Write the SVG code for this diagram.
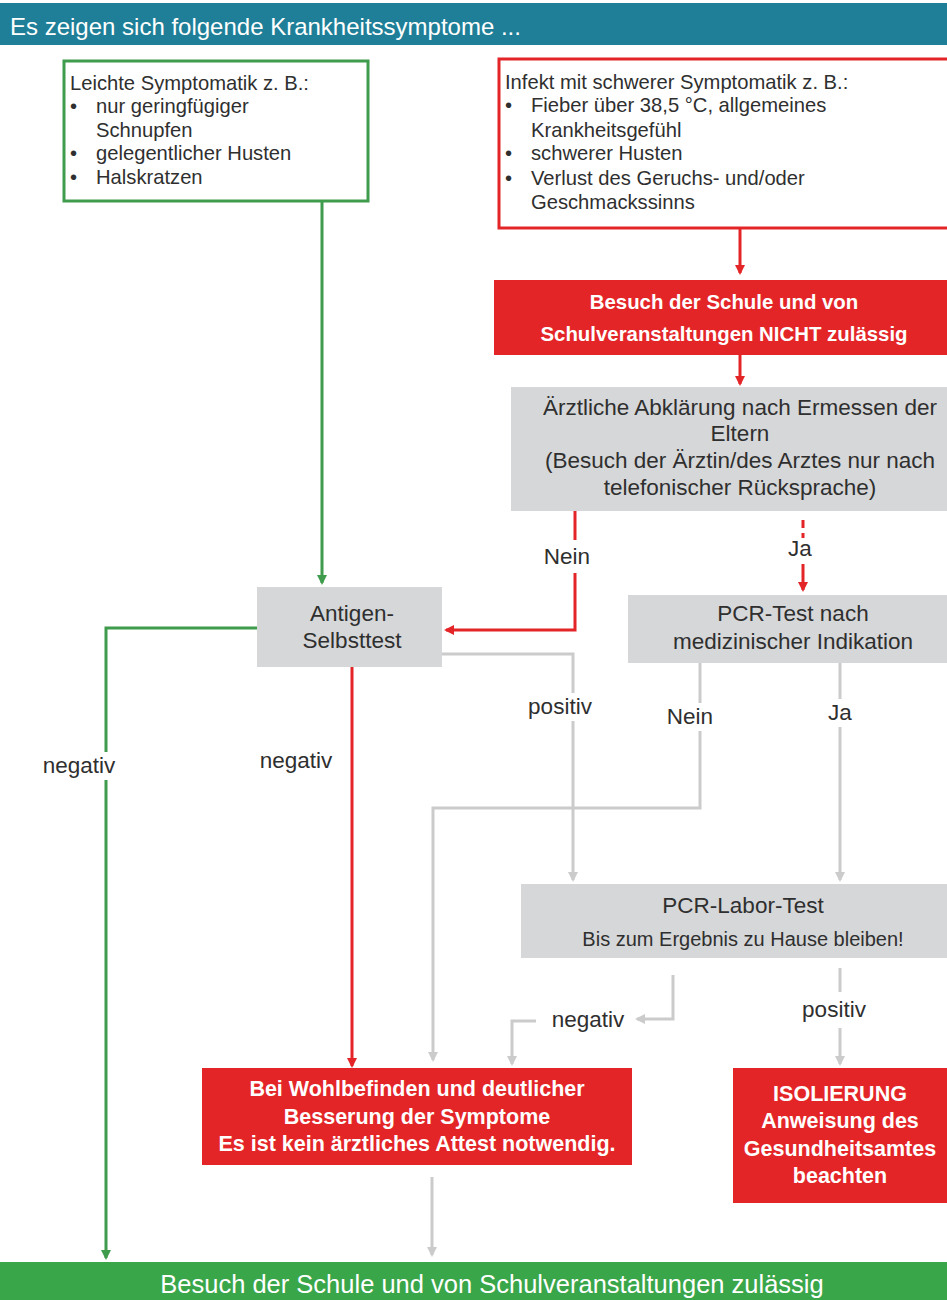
<svg xmlns="http://www.w3.org/2000/svg" width="947" height="1300" viewBox="0 0 947 1300">
<style>
text{font-family:"Liberation Sans",Arial,sans-serif;}
.t{fill:#2f2f2f;font-size:20.2px;}
.g{fill:#2f2f2f;font-size:22.5px;text-anchor:middle;}
.lb{fill:#2f2f2f;font-size:22.5px;text-anchor:middle;}
.w{fill:#fff;font-weight:700;text-anchor:middle;}
.redbox{fill:#e42528;}
.greybox{fill:#d6d7d9;}
.lr{stroke:#e42528;stroke-width:3;fill:none;}
.lg{stroke:#3f9c4c;stroke-width:3;fill:none;}
.ly{stroke:#cbcbcb;stroke-width:3;fill:none;}
</style>
<defs>
<marker id="ar" markerWidth="10" markerHeight="10" refX="8" refY="5" orient="auto" markerUnits="userSpaceOnUse"><path d="M0,0 L10,5 L0,10 z" fill="#e42528"/></marker>
<marker id="ag" markerWidth="10" markerHeight="10" refX="8" refY="5" orient="auto" markerUnits="userSpaceOnUse"><path d="M0,0 L10,5 L0,10 z" fill="#3f9c4c"/></marker>
<marker id="ay" markerWidth="10" markerHeight="10" refX="8" refY="5" orient="auto" markerUnits="userSpaceOnUse"><path d="M0,0 L10,5 L0,10 z" fill="#cbcbcb"/></marker>
</defs>
<rect width="947" height="1300" fill="#fff"/>

<g id="header">
<rect x="0" y="3" width="947" height="42" fill="#1f7f98"/>
<text x="10" y="35" style="fill:#fff;font-size:24px;">Es zeigen sich folgende Krankheitssymptome ...</text>
</g>

<g id="connectors">
<path class="lg" d="M322,202 V583" marker-end="url(#ag)"/>
<path class="lr" d="M740,228 V273" marker-end="url(#ar)"/>
<path class="lr" d="M740,355 V384" marker-end="url(#ar)"/>
<path class="lr" d="M575,511 V540"/>
<path class="lr" d="M575,573 V630 H446" marker-end="url(#ar)"/>
<path class="lr" d="M803,520 V538" stroke-dasharray="8,5"/>
<path class="lr" d="M803,564 V590" marker-end="url(#ar)"/>
<path class="lg" d="M257,628 H106 V1258" marker-end="url(#ag)"/>
<path class="lr" d="M352,667 V1066" marker-end="url(#ar)"/>
<path class="ly" d="M442,654 H573 V880" marker-end="url(#ay)"/>
<path class="ly" d="M700,663 V808 H433 V1060" marker-end="url(#ay)"/>
<path class="ly" d="M840,663 V880" marker-end="url(#ay)"/>
<path class="ly" d="M673,975 V1019 H637" marker-end="url(#ay)"/>
<path class="ly" d="M536,1021 H512 V1064" marker-end="url(#ay)"/>
<path class="ly" d="M840,968 V992"/>
<path class="ly" d="M840,1028 V1064" marker-end="url(#ay)"/>
<path class="ly" d="M432,1177 V1255" marker-end="url(#ay)"/>
<rect x="524" y="693" width="72" height="28" fill="#fff"/>
<rect x="662" y="703" width="56" height="28" fill="#fff"/>
<rect x="826" y="699" width="28" height="28" fill="#fff"/>
<rect x="38" y="752" width="84" height="28" fill="#fff"/>
<text class="lb" x="567" y="564">Nein</text>
<text class="lb" x="800" y="556">Ja</text>
<text class="lb" x="79" y="773">negativ</text>
<text class="lb" x="296" y="768">negativ</text>
<text class="lb" x="560" y="714">positiv</text>
<text class="lb" x="690" y="724">Nein</text>
<text class="lb" x="840" y="720">Ja</text>
<text class="lb" x="588" y="1027">negativ</text>
<text class="lb" x="834" y="1017">positiv</text>
</g>

<g id="leicht">
<rect x="64" y="61" width="304" height="140" fill="#fff" stroke="#3f9c4c" stroke-width="3"/>
<text class="t" x="70" y="90">Leichte Symptomatik z. B.:</text>
<text class="t" x="70" y="113">•</text><text class="t" x="96" y="113">nur geringfügiger</text>
<text class="t" x="96" y="137">Schnupfen</text>
<text class="t" x="70" y="160">•</text><text class="t" x="96" y="160">gelegentlicher Husten</text>
<text class="t" x="70" y="184">•</text><text class="t" x="96" y="184">Halskratzen</text>
</g>

<g id="schwer">
<rect x="499" y="59" width="460" height="169" fill="#fff" stroke="#e42528" stroke-width="3"/>
<text class="t" x="505" y="89">Infekt mit schwerer Symptomatik z. B.:</text>
<text class="t" x="505" y="112">•</text><text class="t" x="531" y="112">Fieber über 38,5 °C, allgemeines</text>
<text class="t" x="531" y="137">Krankheitsgefühl</text>
<text class="t" x="505" y="160">•</text><text class="t" x="531" y="160">schwerer Husten</text>
<text class="t" x="505" y="185">•</text><text class="t" x="531" y="185">Verlust des Geruchs- und/oder</text>
<text class="t" x="531" y="209">Geschmackssinns</text>
</g>

<g id="nicht-zulaessig">
<rect class="redbox" x="494" y="280" width="460" height="75"/>
<text class="w" x="724" y="309" style="font-size:20.4px">Besuch der Schule und von</text>
<text class="w" x="724" y="341" style="font-size:20.4px">Schulveranstaltungen NICHT zulässig</text>
</g>

<g id="aerztlich">
<rect class="greybox" x="511" y="387" width="446" height="124"/>
<text class="g" x="740" y="415">Ärztliche Abklärung nach Ermessen der</text>
<text class="g" x="740" y="441">Eltern</text>
<text class="g" x="740" y="468">(Besuch der Ärztin/des Arztes nur nach</text>
<text class="g" x="740" y="495">telefonischer Rücksprache)</text>
</g>

<g id="antigen">
<rect class="greybox" x="257" y="587" width="185" height="80"/>
<text class="g" x="352" y="621">Antigen-</text>
<text class="g" x="352" y="648">Selbsttest</text>
</g>

<g id="pcr-indikation">
<rect class="greybox" x="628" y="595" width="329" height="68"/>
<text class="g" x="793" y="621">PCR-Test nach</text>
<text class="g" x="793" y="649">medizinischer Indikation</text>
</g>

<g id="pcr-labor">
<rect class="greybox" x="521" y="884" width="436" height="74"/>
<text class="g" x="743" y="913">PCR-Labor-Test</text>
<text x="743" y="946" style="fill:#2f2f2f;font-size:20px;text-anchor:middle;">Bis zum Ergebnis zu Hause bleiben!</text>
</g>

<g id="wohlbefinden">
<rect class="redbox" x="202" y="1068" width="430" height="97"/>
<text class="w" x="417" y="1096" style="font-size:21.5px">Bei Wohlbefinden und deutlicher</text>
<text class="w" x="417" y="1124" style="font-size:21.5px">Besserung der Symptome</text>
<text class="w" x="417" y="1151" style="font-size:21.5px">Es ist kein ärztliches Attest notwendig.</text>
</g>

<g id="isolierung">
<rect class="redbox" x="733" y="1068" width="224" height="135"/>
<text class="w" x="840" y="1101" style="font-size:21.5px">ISOLIERUNG</text>
<text class="w" x="840" y="1128" style="font-size:21.5px">Anweisung des</text>
<text class="w" x="840" y="1156" style="font-size:21.5px">Gesundheitsamtes</text>
<text class="w" x="840" y="1183" style="font-size:21.5px">beachten</text>
</g>

<g id="zulaessig">
<rect x="0" y="1262" width="947" height="38" fill="#3aa64a"/>
<text x="492" y="1293" style="fill:#fff;font-size:25.5px;text-anchor:middle;">Besuch der Schule und von Schulveranstaltungen zulässig</text>
</g>
</svg>
